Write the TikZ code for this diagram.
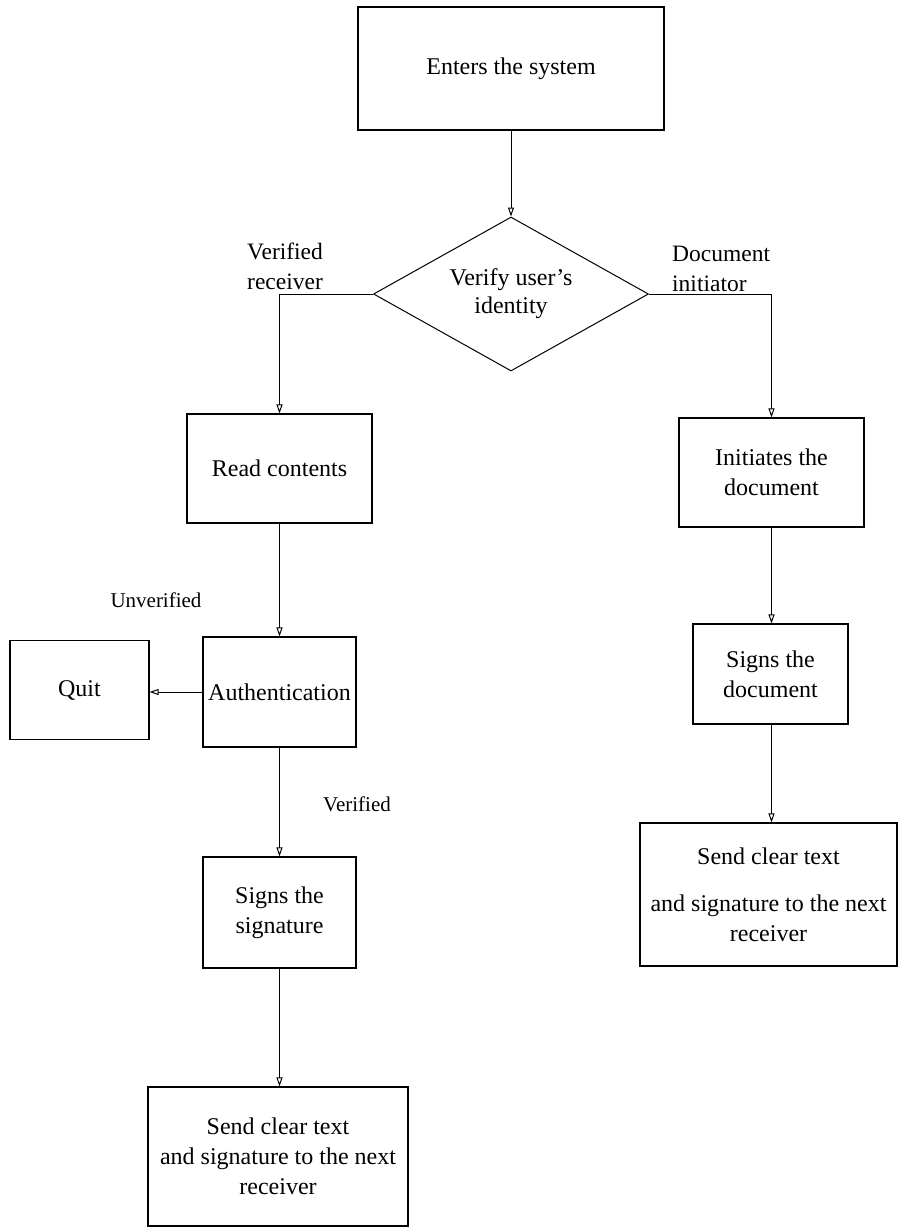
\documentclass[tikz,border=0pt]{standalone}
\usepackage{fontspec}
\setmainfont{Liberation Serif}
\usetikzlibrary{shapes.geometric,arrows.meta}
\begin{document}
\begin{tikzpicture}[x=1pt,y=-1pt,
  box/.style={draw,line width=1.1pt,inner sep=0pt,align=center,font=\fontsize{24}{30}\selectfont},
  dia/.style={draw,diamond,line width=1pt,inner sep=0pt,shape aspect=1.786,align=center,font=\fontsize{24}{28}\selectfont},
  arr/.style={line width=1pt,-{Triangle[open,length=9pt,width=6pt]}},
  lbl/.style={inner sep=0pt,align=left,font=\fontsize{23.5}{30}\selectfont},
  slbl/.style={inner sep=0pt,font=\fontsize{21}{26}\selectfont}]
\useasboundingbox (0,0) rectangle (899,1229);
\node[box,minimum width=306pt,minimum height=123pt] (enter) at (511,68.5) {Enters the system};
\node[dia,minimum width=275pt,minimum height=154pt] (verify) at (511,294) {Verify user's\\identity};
\node[box,minimum width=185pt,minimum height=109pt] (read) at (279.5,468.5) {Read contents};
\node[box,minimum width=185pt,minimum height=109pt] (init) at (771.5,472.5) {Initiates the\\document};
\node[box,minimum width=153pt,minimum height=110pt] (auth) at (279.5,692) {Authentication};
\node[box,minimum width=139pt,minimum height=99pt] (quit) at (79.5,690) {Quit};
\node[box,minimum width=153pt,minimum height=111pt] (signsig) at (279.5,912.5) {Signs the\\signature};
\node[box,minimum width=155pt,minimum height=100pt] (signdoc) at (770.5,674) {Signs the\\document};
\node[box,minimum width=257pt,minimum height=143pt] (sendR) at (768.5,894.5) {Send clear text\\[17pt]and signature to the next\\receiver};
\node[box,minimum width=260pt,minimum height=139pt] (sendL) at (278,1156.5) {Send clear text\\and signature to the next\\receiver};
\node[lbl,anchor=west] (lvr) at (247,266) {Verified\\receiver};
\node[lbl,anchor=west] (ldi) at (672,269) {Document\\initiator};
\node[slbl] (lunv) at (156,600) {Unverified};
\node[slbl] (lver) at (357,804) {Verified};
\draw[arr] (enter.south) -- (verify.north);
\draw[arr] (verify.west) -| (read.north);
\draw[arr] (verify.east) -| (init.north);
\draw[arr] (read.south) -- (auth.north);
\draw[arr] (auth.west) -- (auth.west -| quit.east);
\draw[arr] (auth.south) -- (signsig.north);
\draw[arr] (signsig.south) -- (signsig.south |- sendL.north);
\draw[arr] (init.south) -- (init.south |- signdoc.north);
\draw[arr] (init.south |- signdoc.south) -- (init.south |- sendR.north);
\end{tikzpicture}
\end{document}
